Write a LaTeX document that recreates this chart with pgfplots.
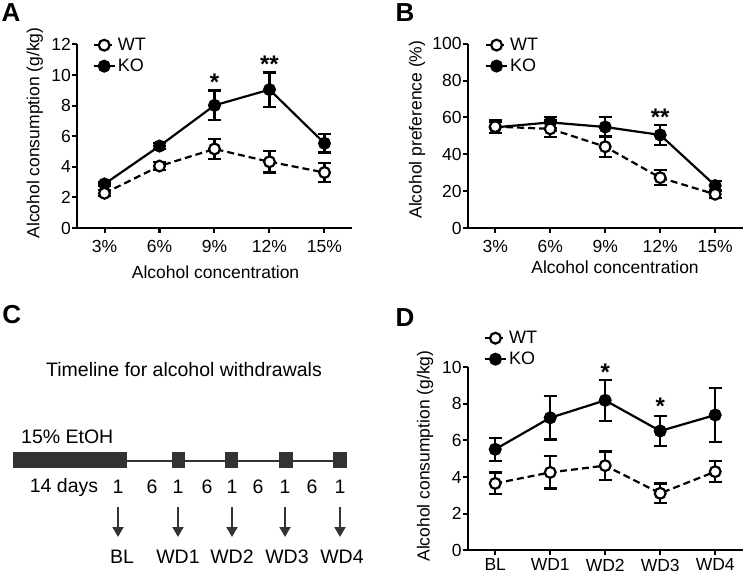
\documentclass[border=0pt]{standalone}
\usepackage{fontspec}
\setmainfont{Liberation Sans}
\usepackage{pgfplots}
\pgfplotsset{compat=1.18}
\usepackage{pgfplotstable}
\usetikzlibrary{arrows.meta}
\definecolor{tlgray}{HTML}{333333}

\pgfplotstableread{
x wt wte ko koe
0 2.27 0.20 2.88 0.15
1 4.05 0.25 5.36 0.20
2 5.17 0.65 8.02 0.97
3 4.33 0.70 9.05 1.12
4 3.63 0.62 5.54 0.60
}\tabA

\pgfplotstableread{
x wt wte ko koe
0 55.0 3.5 54.6 3.0
1 53.8 4.5 57.3 3.0
2 44.1 5.5 54.8 5.6
3 27.3 4.0 50.5 5.6
4 18.3 2.0 23.0 2.5
}\tabB

\pgfplotstableread{
x wt wte ko koe
0 3.65 0.60 5.51 0.62
1 4.25 0.88 7.23 1.19
2 4.62 0.77 8.18 1.11
3 3.11 0.53 6.51 0.82
4 4.29 0.57 7.38 1.46
}\tabD

\tikzset{star/.style={font=\fontsize{24}{24}\bfseries\selectfont, yshift=-4.5pt}}

\pgfplotsset{
 panel/.style={
  scale only axis, width=275pt,
  axis lines=left, axis line style={-, line width=2pt},
  tick align=outside, major tick length=5pt,
  tick style={line width=2pt, black},
  xmin=-0.5, xmax=4.5, xtick={0,...,4}, ymin=0,
  /pgf/number format/assume math mode=true,
  tick label style={font=\fontsize{17.5}{19}\selectfont},
  label style={font=\fontsize{17.5}{19}\selectfont},
  yticklabel style={inner xsep=1pt},
  clip=false,
  legend style={draw=none, fill=none, font=\fontsize{18}{19}\selectfont,
    row sep=3pt, inner sep=0pt, anchor=north west, cells={anchor=west}},
  legend cell align=left,
  reverse legend,
  legend image code/.code={\draw[mark repeat=2, mark phase=2] plot coordinates {(0pt,0pt) (10.5pt,0pt) (21pt,0pt)};},
 },
 ko/.style={black, line width=2.2pt, mark=*, mark size=5.4pt,
   mark options={solid, fill=black},
   error bars/y dir=both, error bars/y explicit,
   error bars/error bar style={line width=2.2pt, solid},
   error bars/error mark options={rotate=90, mark size=6.5pt, line width=2.2pt, solid}},
 wt/.style={black, line width=2.2pt, dash pattern=on 7pt off 4pt, mark=*, mark size=5.4pt,
   mark options={solid, fill=white},
   error bars/y dir=both, error bars/y explicit,
   error bars/error bar style={line width=2.2pt, solid},
   error bars/error mark options={rotate=90, mark size=6.5pt, line width=2.2pt, solid}},
}

\begin{document}
\begin{tikzpicture}
\useasboundingbox (0,0) rectangle (744pt,574pt);

% Panel A
\begin{axis}[panel, at={(77pt,346pt)}, anchor=south west, height=183.5pt,
  ymax=12, ytick={0,2,...,12},
  xticklabels={3\%,6\%,9\%,12\%,15\%},
  xticklabel style={yshift=-4pt},
  xlabel={Alcohol concentration},
  ylabel={Alcohol consumption (g/kg)},
  xlabel style={at={(axis description cs:0.504,-0.2425)}, anchor=center},
  ylabel style={at={(axis description cs:-0.153,0.518)}, anchor=center},
  legend style={at={(axis description cs:0.056,1.046)}}]
\addplot[ko] table[x=x, y=ko, y error=koe] {\tabA};
\addlegendentry{KO}
\addplot[wt] table[x=x, y=wt, y error=wte] {\tabA};
\addlegendentry{WT}
\node[star] at (axis cs:2,9.83) {*};
\node[star] at (axis cs:3,10.99) {**};
\end{axis}

% Panel B
\begin{axis}[panel, at={(467.7pt,346pt)}, anchor=south west, height=184.3pt,
  ymax=100, ytick={0,20,...,100},
  xticklabels={3\%,6\%,9\%,12\%,15\%},
  xticklabel style={yshift=-4pt},
  xlabel={Alcohol concentration},
  ylabel={Alcohol preference (\%)},
  xlabel style={at={(axis description cs:0.536,-0.212)}, anchor=center},
  ylabel style={at={(axis description cs:-0.184,0.534)}, anchor=center},
  legend style={at={(axis description cs:0.062,1.042)}}]
\addplot[ko] table[x=x, y=ko, y error=koe] {\tabB};
\addlegendentry{KO}
\addplot[wt] table[x=x, y=wt, y error=wte] {\tabB};
\addlegendentry{WT}
\node[star] at (axis cs:3,62.8) {**};
\end{axis}

% Panel D
\begin{axis}[panel, at={(467.7pt,23.7pt)}, anchor=south west, height=183.3pt,
  ymax=10, ytick={0,2,...,10},
  xticklabels={BL,WD1,WD2,WD3,WD4},
  xticklabel style={yshift=0pt},
  ylabel={Alcohol consumption (g/kg)},
  ylabel style={at={(axis description cs:-0.155,0.514)}, anchor=center},
  legend style={at={(axis description cs:0.058,1.207)}}]
\addplot[ko] table[x=x, y=ko, y error=koe] {\tabD};
\addlegendentry{KO}
\addplot[wt] table[x=x, y=wt, y error=wte] {\tabD};
\addlegendentry{WT}
\node[star] at (axis cs:2,9.98) {*};
\node[star] at (axis cs:3,8.11) {*};
\end{axis}

% Panel C and letters (image coordinates)
\begin{scope}[shift={(0pt,574pt)}, x=1pt, y=-1pt]
 \node[font=\fontsize{26}{26}\bfseries\selectfont] at (11,13) {A};
 \node[font=\fontsize{26}{26}\bfseries\selectfont] at (405,13) {B};
 \node[font=\fontsize{26}{26}\bfseries\selectfont] at (11.7,315) {C};
 \node[font=\fontsize{26}{26}\bfseries\selectfont] at (405,318) {D};

 \begin{scope}[every node/.style={font=\fontsize{19.5}{22}\selectfont, text=black}]
 \node at (184,370) {Timeline for alcohol withdrawals};
 \node[anchor=west, inner sep=0pt] at (21,437) {15\% EtOH};
 \draw[tlgray, line width=2pt] (127,460.5) -- (340,460.5);
 \fill[tlgray] (13.3,452) rectangle (126.7,468.3);
 \fill[tlgray] (171.7,452) rectangle (185,468.3);
 \fill[tlgray] (225,452) rectangle (238.3,468.3);
 \fill[tlgray] (279.3,452) rectangle (293,468.3);
 \fill[tlgray] (333.3,452) rectangle (347.3,468.3);
 \node at (64,487) {14 days};
 \node at (118,487) {1};
 \node at (152,487) {6};
 \node at (178,487) {1};
 \node at (207,487) {6};
 \node at (232,487) {1};
 \node at (258,487) {6};
 \node at (285,487) {1};
 \node at (312,487) {6};
 \node at (340,487) {1};
 \foreach \ax in {118,178,232,285,340} {
   \draw[tlgray, line width=2pt, -{Triangle[length=10pt,width=11pt]}] (\ax,507) -- (\ax,537);
 }
 \node at (122,557) {BL};
 \node at (178,557) {WD1};
 \node at (232,557) {WD2};
 \node at (287,557) {WD3};
 \node at (342,557) {WD4};
 \end{scope}
\end{scope}
\end{tikzpicture}
\end{document}
